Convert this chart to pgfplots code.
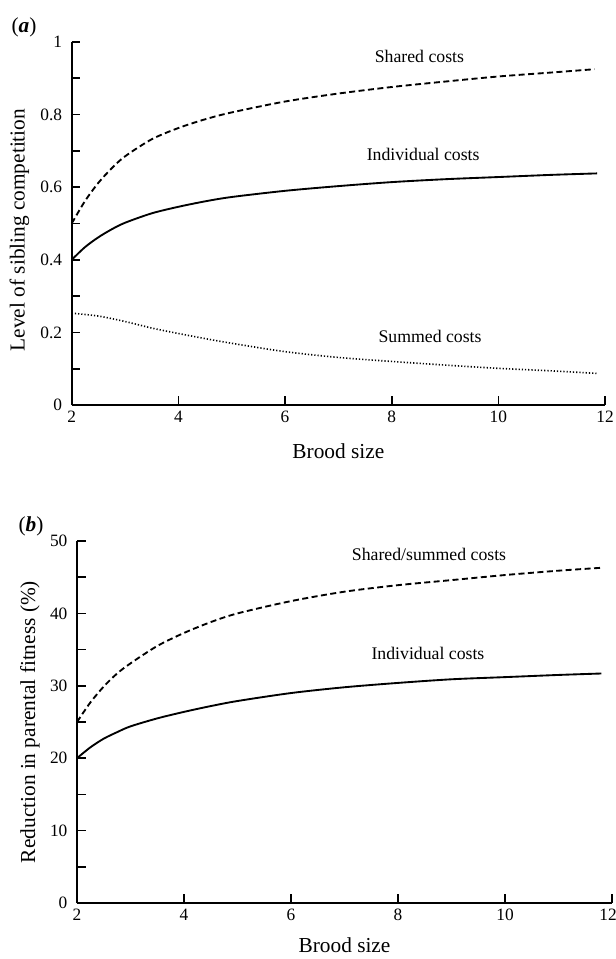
\documentclass[border=0pt]{standalone}
\usepackage{fontspec}
\setmainfont{Liberation Serif}
\usepackage{pgfplots}
\pgfplotsset{compat=1.18}
\tikzset{curvelab/.style={font=\fontsize{13.3}{15}\selectfont, anchor=center}}
\begin{document}
\begin{tikzpicture}
\useasboundingbox (0,0) rectangle (462pt,-719.25pt);
\pgfplotsset{
  myaxis/.style={
    scale only axis,
    axis lines=left,
    axis line style={-, line width=1.3pt},
    xmin=2, xmax=12,
    xtick={2,4,...,12},
    tick align=inside,
    major tick length=6.5pt,
    minor tick length=6.5pt,
    every tick/.style={line width=1.2pt, black},
    /pgf/number format/assume math mode=true,
    ticklabel style={font=\fontsize{13}{15}\selectfont},
    yticklabel style={xshift=-3.7pt},
    xticklabel style={yshift=-1pt},
    label style={font=\fontsize{16}{18}\selectfont},
    clip=false,
  },
}
% ---------- panel (a)
\begin{axis}[myaxis,
  at={(53.775pt,-303.75pt)}, anchor=south west,
  width=400pt, height=272.25pt,
  ymin=0, ymax=1,
  ytick={0,0.2,...,1},
  minor ytick={0.1,0.3,0.5,0.7,0.9},
  yticklabels={0,0.2,0.4,0.6,0.8,1},
  xlabel={Brood size},
  ylabel={Level of sibling competition},
  xlabel style={at={(axis description cs:0.5,-0.127)}, anchor=center},
  ylabel style={at={(axis description cs:-0.098,0.482)}, anchor=center},
]
\addplot[black, line width=1.4pt, smooth, dash pattern=on 4.5pt off 2.6pt] coordinates {
(2,0.500) (2.25,0.562) (2.5,0.612) (2.75,0.652) (3,0.685) (3.5,0.732) (4,0.763)
(4.5,0.787) (5,0.806) (6,0.836) (7,0.858) (8,0.876) (9,0.891) (10,0.905) (11,0.916) (11.8,0.925)};
\addplot[black, line width=1.4pt, smooth] coordinates {
(2,0.400) (2.25,0.435) (2.5,0.462) (2.75,0.484) (3,0.502) (3.5,0.528) (4,0.546)
(4.5,0.561) (5,0.573) (6,0.590) (7,0.603) (8,0.614) (9,0.622) (10,0.628) (11,0.634) (11.85,0.638)};
\addplot[black, line width=1.2pt, smooth, dash pattern=on 0.9pt off 1.5pt] coordinates {
(2,0.253) (2.5,0.245) (3,0.230) (3.5,0.212) (4,0.197) (4.5,0.183) (5,0.170)
(6,0.147) (7,0.131) (8,0.120) (9,0.110) (10,0.101) (11,0.094) (11.85,0.087)};
\node[curvelab] at (axis cs:8.52,0.961) {Shared costs};
\node[curvelab] at (axis cs:8.59,0.691) {Individual costs};
\node[curvelab] at (axis cs:8.72,0.190) {Summed costs};
\end{axis}
\node[font=\fontsize{16}{18}\selectfont] at (18pt,-20.25pt) {(\textbf{\textit{a}})};
% ---------- panel (b)
\begin{axis}[myaxis,
  at={(57.75pt,-677.25pt)}, anchor=south west,
  width=401.25pt, height=271.5pt,
  ymin=0, ymax=50,
  ytick={0,10,...,50},
  minor ytick={5,15,25,35,45},
  xticklabels={2,4,6,8,10,{\kern-6pt 12}},
  xlabel={Brood size},
  ylabel={Reduction in parental fitness (\%)},
  xlabel style={at={(axis description cs:0.5,-0.116)}, anchor=center},
  ylabel style={at={(axis description cs:-0.088,0.5)}, anchor=center},
]
\addplot[black, line width=1.4pt, smooth, dash pattern=on 4.5pt off 2.6pt] coordinates {
(2,25.0) (2.25,27.7) (2.5,29.9) (2.75,31.7) (3,33.1) (3.5,35.5) (4,37.3)
(4.5,38.8) (5,40.0) (6,41.7) (7,43.0) (8,43.9) (9,44.6) (10,45.3) (11,45.9) (11.8,46.3)};
\addplot[black, line width=1.4pt, smooth] coordinates {
(2,20.0) (2.25,21.5) (2.5,22.7) (2.75,23.6) (3,24.4) (3.5,25.5) (4,26.4)
(4.5,27.2) (5,27.9) (6,29.0) (7,29.8) (8,30.4) (9,30.9) (10,31.2) (11,31.5) (11.8,31.7)};
\node[curvelab] at (axis cs:8.58,48.2) {Shared/summed costs};
\node[curvelab] at (axis cs:8.56,34.5) {Individual costs};
\end{axis}
\node[font=\fontsize{16}{18}\selectfont] at (23.25pt,-394.5pt) {(\textbf{\textit{b}})};
\end{tikzpicture}
\end{document}
